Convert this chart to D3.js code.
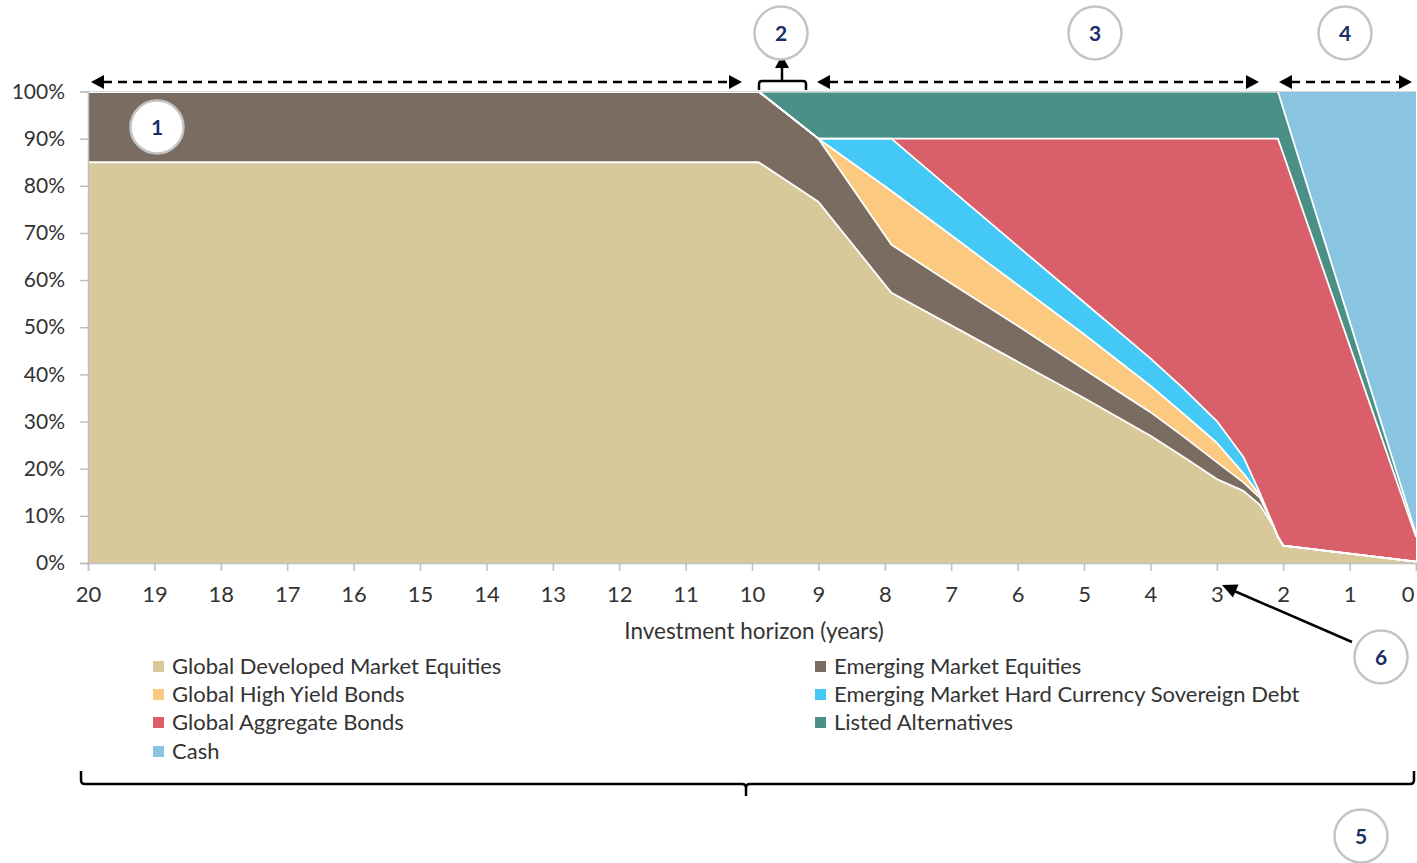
<!DOCTYPE html>
<html>
<head>
<meta charset="utf-8">
<script src="https://cdn.jsdelivr.net/npm/d3@7"></script>
<style>
  html, body { margin: 0; padding: 0; background: #fff; }
  svg { display: block; font-family: Lato, "Open Sans", sans-serif; }
</style>
</head>
<body>
<svg id="chart" width="1417" height="863"></svg>
<script>
// ---- Data (years remaining in investment horizon, % allocation) ----
const years = [20, 9.9, 9, 7.9, 7, 6, 5, 4, 3.5, 3, 2.6, 2.35, 2.15, 2.08, 2.0, 0];
const seriesNames = [
  "Global Developed Market Equities",
  "Emerging Market Equities",
  "Global High Yield Bonds",
  "Emerging Market Hard Currency Sovereign Debt",
  "Global Aggregate Bonds",
  "Listed Alternatives",
  "Cash"
];
const globalDevEquities = [85, 85, 76.6, 57.3, 50.4, 42.7, 35.0, 27.0, 22.5, 17.8, 15.3, 12.3, 7.8, 5.5, 3.7, 0.3];
const emergingEquities  = [15, 15, 13.4, 10.2, 8.9, 7.6, 6.1, 5.0, 4.3, 3.6, 1.8, 1.5, 0.2, 0.1, 0, 0];
const globalHighYield   = [0, 0, 0, 11.4, 10.2, 8.7, 7.4, 5.6, 4.8, 4.1, 1.9, 0.6, 0, 0, 0, 0];
const emHardCurrency    = [0, 0, 0, 11.1, 9.7, 8.2, 6.8, 5.8, 5.4, 4.6, 3.5, 0.4, 0, 0, 0, 0];
const globalAggBonds    = [0, 0, 0, 0, 10.8, 22.8, 34.7, 46.6, 53.0, 59.9, 67.5, 75.2, 82.0, 84.4, 83.1, 5.2];
const listedAlts        = [0, 0, 10, 10, 10, 10, 10, 10, 10, 10, 10, 10, 10, 10, 9.6, 0.6];
const cash              = [0, 0, 0, 0, 0, 0, 0, 0, 0, 0, 0, 0, 0, 0, 3.6, 93.9];
const xTickValues = [20,19,18,17,16,15,14,13,12,11,10,9,8,7,6,5,4,3,2,1,0];
const yTickValues = [0,10,20,30,40,50,60,70,80,90,100];
const colors = ["#d8c99b", "#7b6c61", "#fcc981", "#44c8f5", "#d9606a", "#4b9086", "#89c5e0"];
const legendOrder = [0, 1, 2, 3, 4, 5, 6];

// ---- Build table ----
const allSeries = [globalDevEquities, emergingEquities, globalHighYield, emHardCurrency, globalAggBonds, listedAlts, cash];
const rows = years.map((y, i) => {
  const r = { year: y };
  seriesNames.forEach((n, k) => r[n] = allSeries[k][i]);
  return r;
});

const svg = d3.select("#chart");
const x = d3.scaleLinear().domain([20, 0]).range([88, 1416]);
const y = d3.scaleLinear().domain([0, 100]).range([563, 91.5]);

const stack = d3.stack().keys(seriesNames);
const stacked = stack(rows);

const area = d3.area()
  .x(d => x(d.data.year))
  .y0(d => y(d[0]))
  .y1(d => y(d[1]));

svg.append("g").selectAll("path")
  .data(stacked)
  .join("path")
  .attr("d", area)
  .attr("fill", (d, i) => colors[i]);

// white separators along each series top
const topLine = d3.line().x(d => x(d.data.year)).y(d => y(d[1]));
svg.append("g").selectAll("path")
  .data(stacked.slice(0, 6))
  .join("path")
  .attr("d", topLine)
  .attr("fill", "none")
  .attr("stroke", "#fff")
  .attr("stroke-width", 1.8)
  .attr("stroke-linejoin", "round");

// top gridline
svg.append("line")
  .attr("x1", x(20)).attr("x2", x(0))
  .attr("y1", y(100)).attr("y2", y(100))
  .attr("stroke", "#d9d9d9").attr("stroke-width", 1);

// ---- Axes ----
const axisColor = "#bfbfbf";
const textColor = "#333333";

const yAxis = svg.append("g")
  .attr("transform", `translate(${x(20)},0)`)
  .call(d3.axisLeft(y).tickValues(yTickValues).tickFormat(d => d + "%").tickSize(8).tickPadding(15));
yAxis.select(".domain").attr("stroke", axisColor).attr("stroke-width", 1.5);
yAxis.selectAll(".tick line").attr("stroke", axisColor).attr("stroke-width", 1.5);
yAxis.selectAll(".tick text").attr("fill", textColor).style("font-size", "21px").style("font-family", "Lato, sans-serif");

const xAxis = svg.append("g")
  .attr("transform", `translate(0,${y(0)})`)
  .call(d3.axisBottom(x).tickValues(xTickValues).tickFormat(d3.format("d")).tickSize(8).tickPadding(15));
xAxis.select(".domain").attr("stroke", axisColor).attr("stroke-width", 1.5);
xAxis.selectAll(".tick line").attr("stroke", axisColor).attr("stroke-width", 1.5);
xAxis.selectAll(".tick text").attr("fill", textColor).style("font-size", "22px").style("font-family", "Lato, sans-serif");
// last label sits at the very edge: keep it inside the picture
xAxis.selectAll(".tick").filter(d => d === 0).select("text")
  .attr("text-anchor", "end").attr("x", -2).attr("dx", null);

svg.append("text")
  .attr("x", 754).attr("y", 639)
  .attr("text-anchor", "middle")
  .attr("fill", textColor)
  .style("font-size", "22.5px")
  .text("Investment horizon (years)");

// ---- Legend ----
const legendPos = [
  { x: 153, y: 666 }, { x: 815, y: 666 },
  { x: 153, y: 694 }, { x: 815, y: 694 },
  { x: 153, y: 722 }, { x: 815, y: 722 },
  { x: 153, y: 751 }
];
const lg = svg.append("g");
legendOrder.forEach((k, i) => {
  const p = legendPos[i];
  lg.append("rect").attr("x", p.x).attr("y", p.y - 5).attr("width", 11).attr("height", 11).attr("fill", colors[k]);
  lg.append("text").attr("x", p.x + 19).attr("y", p.y + 8)
    .attr("fill", textColor).style("font-size", "22px").text(seriesNames[k]);
});

// ---- Annotations ----
const ann = svg.append("g");
function arrowHead(tipX, tipY, dir) {
  let pts;
  if (dir === 'left') pts = [[tipX, tipY], [tipX + 13, tipY - 7], [tipX + 13, tipY + 7]];
  else if (dir === 'right') pts = [[tipX, tipY], [tipX - 13, tipY - 7], [tipX - 13, tipY + 7]];
  else pts = [[tipX, tipY], [tipX - 7, tipY + 13], [tipX + 7, tipY + 13]];
  ann.append("polygon").attr("points", pts.map(p => p.join(",")).join(" ")).attr("fill", "#000");
}
function dashedArrow(x1, x2, yy) {
  ann.append("line").attr("x1", x1 + 12).attr("x2", x2 - 12).attr("y1", yy).attr("y2", yy)
    .attr("stroke", "#000").attr("stroke-width", 2.5).attr("stroke-dasharray", "9,6");
  arrowHead(x1, yy, 'left');
  arrowHead(x2, yy, 'right');
}
dashedArrow(91, 742, 82);
dashedArrow(817, 1259, 82);
dashedArrow(1279, 1412, 82);

// bracket for stage 2
ann.append("path")
  .attr("d", "M759,90 V84 Q759,81 762,81 H782 H803 Q806,81 806,84 V90")
  .attr("fill", "none").attr("stroke", "#000").attr("stroke-width", 2.5);
ann.append("line").attr("x1", 782).attr("x2", 782).attr("y1", 81).attr("y2", 64)
  .attr("stroke", "#000").attr("stroke-width", 2.5);
arrowHead(782, 55, 'up');

// arrow for circle 6
ann.append("line").attr("x1", 1352).attr("y1", 642).attr("x2", 1232).attr("y2", 590)
  .attr("stroke", "#000").attr("stroke-width", 2.5);
(function () {
  const tx = 1222, ty = 585;
  const ang = Math.atan2(642 - 585, 1352 - 1222);
  const L = 15, W = 7;
  const bx = tx + L * Math.cos(ang), by = ty + L * Math.sin(ang);
  const px = -Math.sin(ang) * W, py = Math.cos(ang) * W;
  ann.append("polygon").attr("points", `${tx},${ty} ${bx + px},${by + py} ${bx - px},${by - py}`).attr("fill", "#000");
})();

// bottom bracket
ann.append("path")
  .attr("d", "M81,771 V780 Q81,784 85,784 H742 Q746,784 746,788 V796 M746,788 Q746,784 750,784 H1410 Q1414,784 1414,780 V771")
  .attr("fill", "none").attr("stroke", "#000").attr("stroke-width", 2.5);

// numbered circles
const circles = [
  { n: "1", cx: 157, cy: 127 },
  { n: "2", cx: 781, cy: 33 },
  { n: "3", cx: 1095, cy: 33 },
  { n: "4", cx: 1345, cy: 33 },
  { n: "5", cx: 1361, cy: 836 },
  { n: "6", cx: 1381, cy: 657 }
];
circles.forEach(c => {
  ann.append("circle").attr("cx", c.cx).attr("cy", c.cy).attr("r", 26.5)
    .attr("fill", "#fff").attr("stroke", "#c4c4c4").attr("stroke-width", 2.5);
  ann.append("text").attr("x", c.cx).attr("y", c.cy + 7.5).attr("text-anchor", "middle")
    .attr("fill", "#1a2f66").style("font-size", "21px").style("font-weight", "bold").text(c.n);
});
</script>
</body>
</html>
